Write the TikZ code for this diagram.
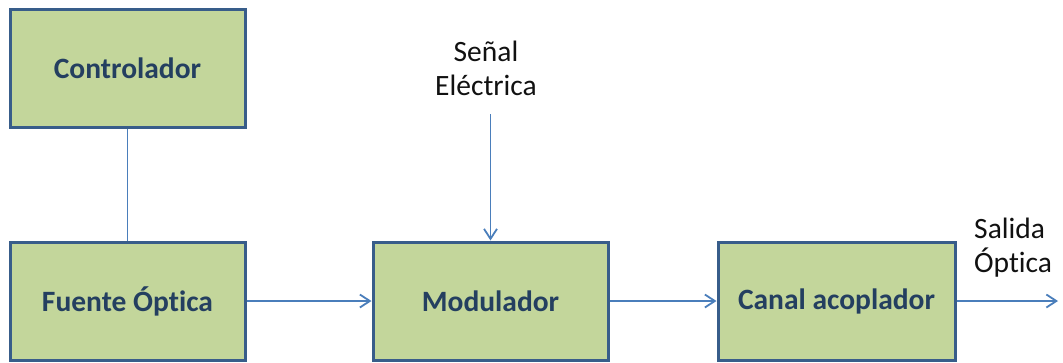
\documentclass[tikz,border=0pt]{standalone}
\usepackage{fontspec}
\setmainfont{Carlito}[Ligatures={NoCommon}]
\usetikzlibrary{arrows.meta}
\definecolor{boxfill}{HTML}{C3D69B}
\definecolor{boxline}{HTML}{385D8A}
\definecolor{boxtext}{HTML}{243F60}
\definecolor{conn}{HTML}{4A7EBB}
\definecolor{lbltext}{HTML}{111111}
\tikzset{
  blockbox/.style={draw=boxline, line width=3pt, fill=boxfill, rectangle,
    minimum height=118pt, inner sep=0pt, text=boxtext,
    font=\fontsize{29.5pt}{34pt}\selectfont\bfseries},
  conline/.style={draw=conn, line width=1.8pt},
  conarrow/.style={conline, -{Straight Barb[length=10pt,width=13pt,line width=1.8pt]}},
  lbl/.style={text=lbltext, inner sep=0pt, font=\fontsize{29.5pt}{34pt}\selectfont}
}
\begin{document}
\begin{tikzpicture}[x=1pt,y=-1pt]
\useasboundingbox (0,0) rectangle (1063,362);
\node[blockbox, minimum width=235pt] (ctrl) at (127.5,68) {Controlador};
\node[blockbox, minimum width=235pt] (fuente) at (127.5,301) {Fuente Óptica};
\node[blockbox, minimum width=235pt] (mod) at (490.5,301) {Modulador};
\node[blockbox, minimum width=237pt] (canal) at (836.5,301) {Canal acoplador};
\node[lbl, align=center] (senal) at (486,68) {Señal\\Eléctrica};
\node[lbl, align=left, anchor=west] (salida) at (974,248) {Salida\\Óptica};
\coordinate (sin) at (490.5,114);
\coordinate (sout) at (1058,301);
\draw[conline] (ctrl.south) -- (fuente.north);
\draw[conarrow] (fuente.east) -- (mod.west);
\draw[conarrow] (mod.east) -- (canal.west);
\draw[conarrow] (sin) -- (mod.north);
\draw[conarrow] (canal.east) -- (sout);
\end{tikzpicture}
\end{document}
